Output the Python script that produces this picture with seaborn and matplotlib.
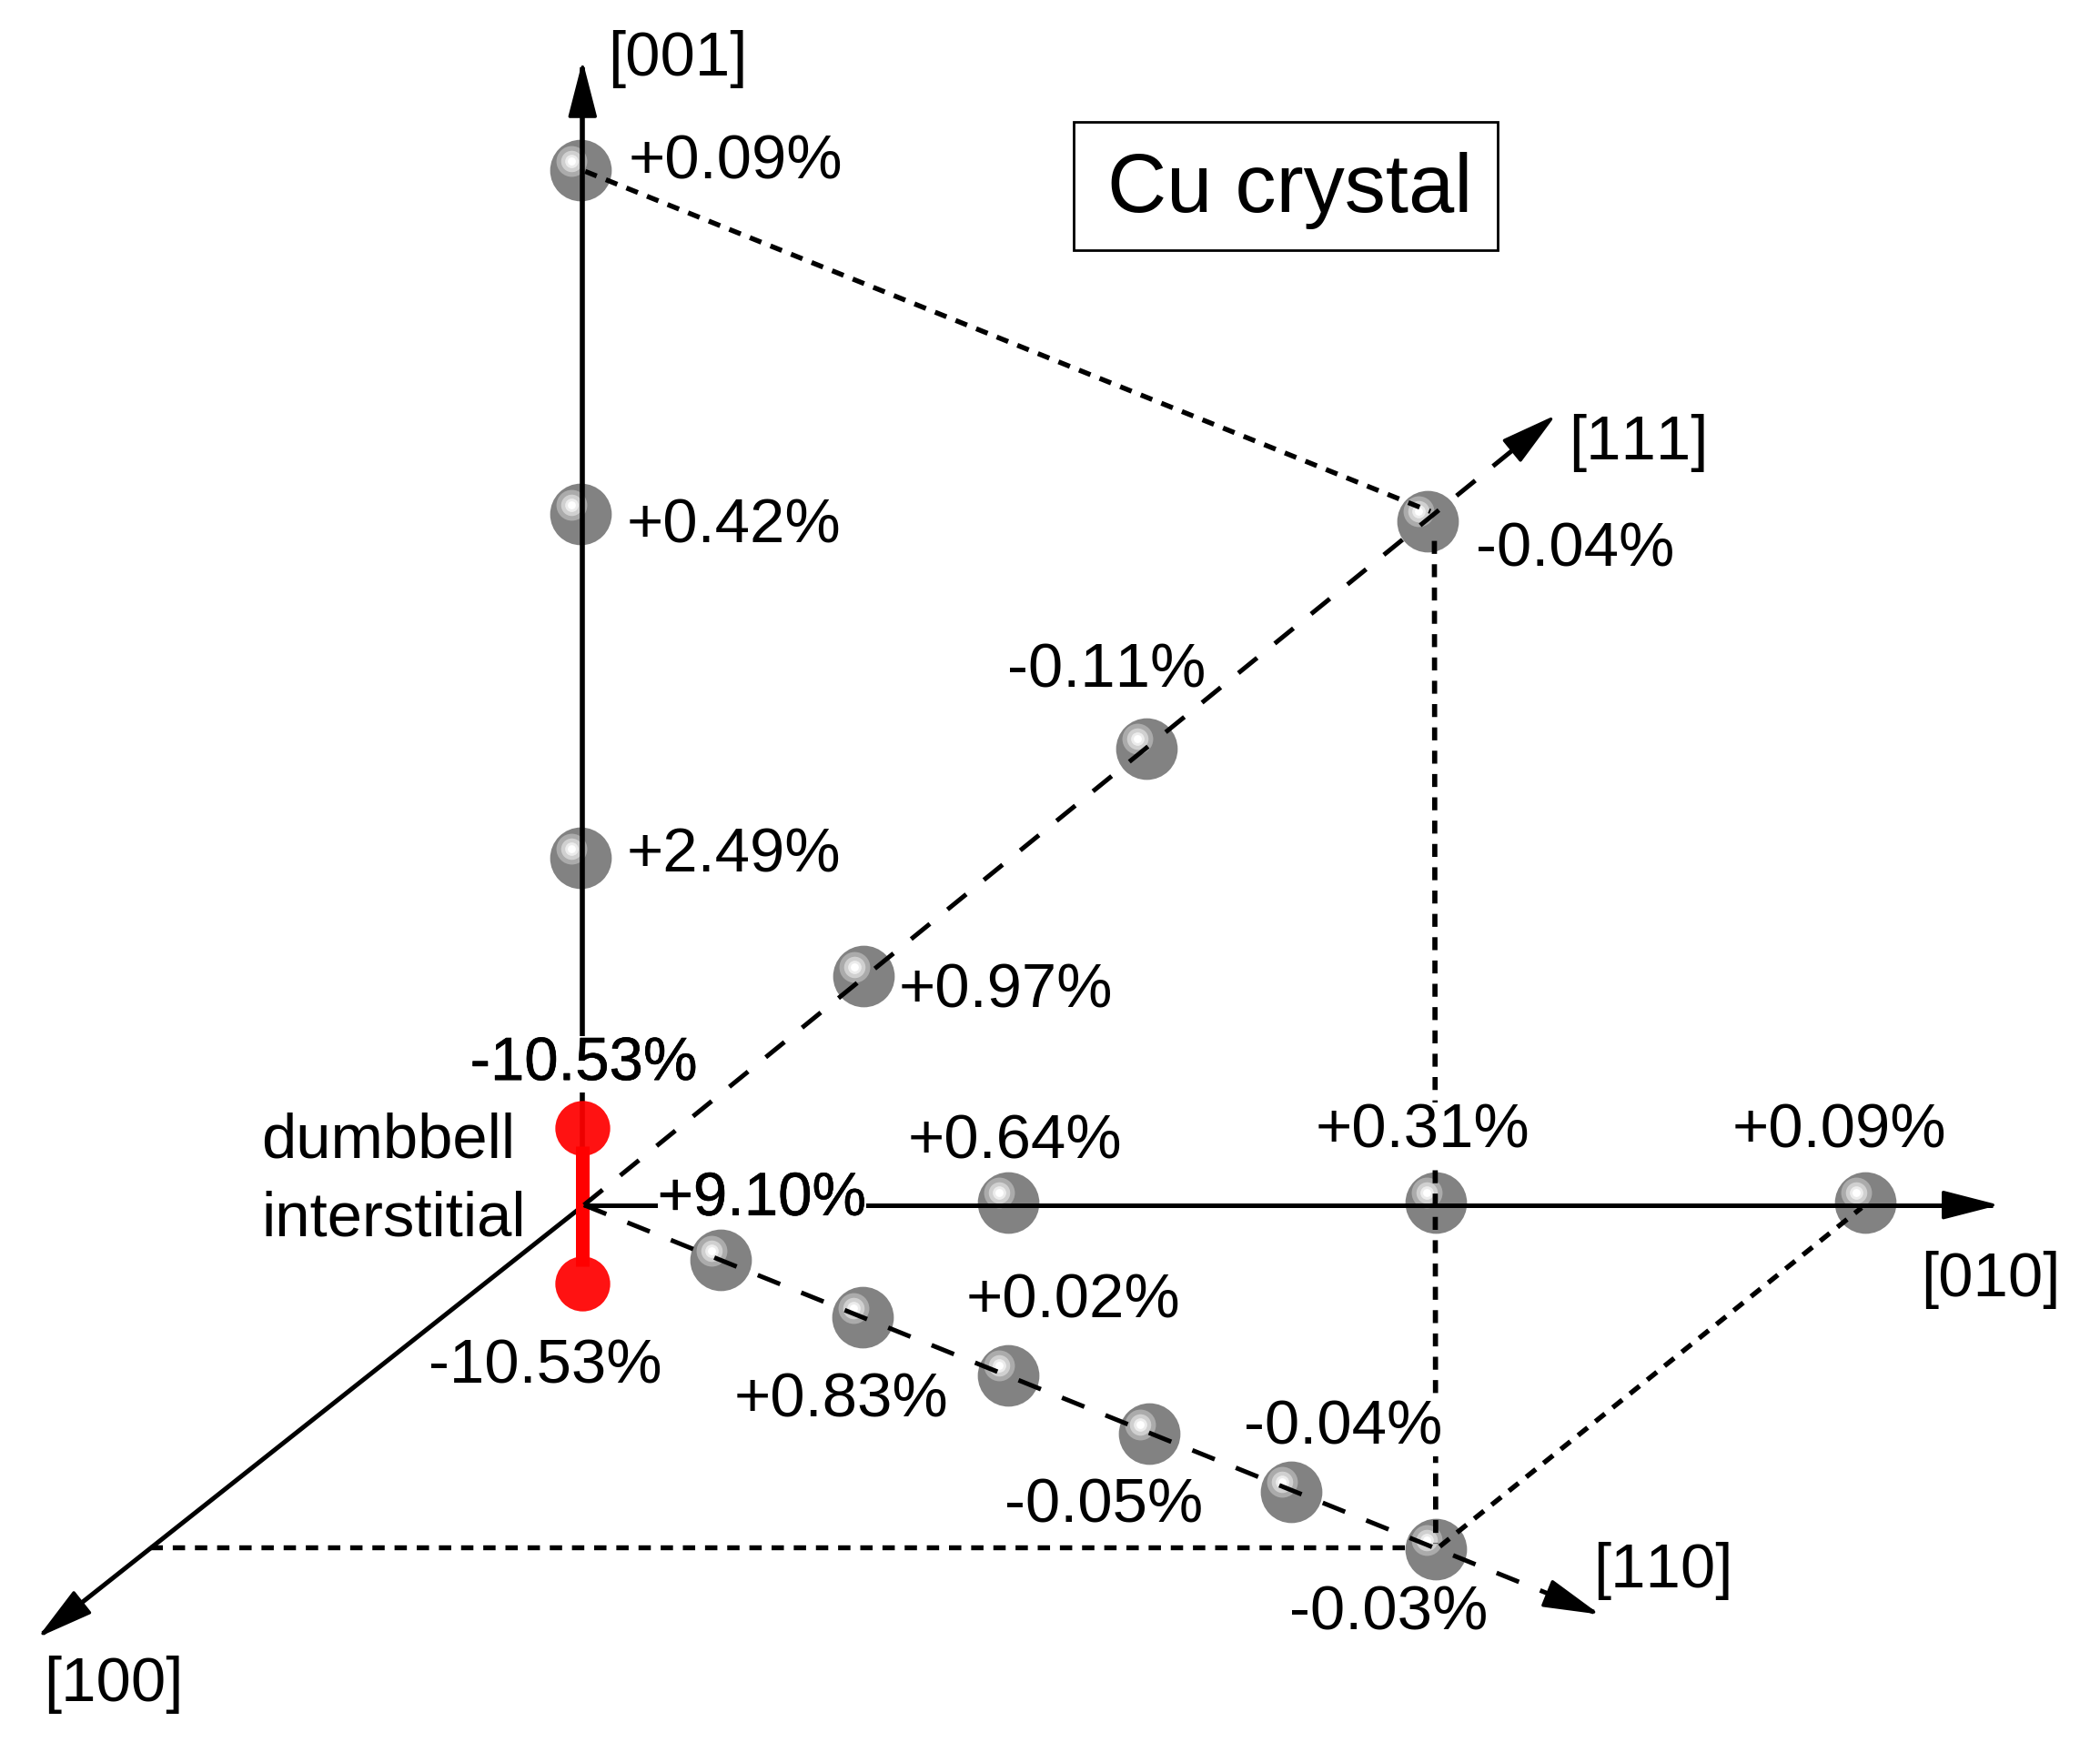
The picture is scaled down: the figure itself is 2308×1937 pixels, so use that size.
import numpy as np
import pandas as pd
import matplotlib
matplotlib.use("Agg")
import matplotlib.pyplot as plt
import matplotlib.patheffects as pe
from matplotlib.patches import Rectangle, Polygon
import seaborn as sns

sns.set_style("white")
plt.rcParams['font.family'] = ['Liberation Sans', 'DejaVu Sans']
plt.rcParams['text.kerning_factor'] = 16

W, H = 1568, 1316
K = 2308 / W  # px per unit

atom_x = [433.5, 433.5, 433.5, 645, 856, 1066, 538, 644, 753, 858, 964, 1072, 753, 1072, 1393]
atom_y = [127, 384, 641, 729, 559, 389, 941, 984, 1027, 1071, 1114, 1157, 898, 898, 898]
red_x = [435, 435]
red_y = [842.5, 958.5]

labels = ["+0.09%", "+0.42%", "+2.49%", "-0.04%", "-0.11%", "+0.97%", "+0.64%",
          "+0.09%", "+0.02%", "+0.83%", "-0.05%", "-0.03%", "-10.53%"]
label_x = [469, 468, 468, 1102, 752, 671, 678, 1293, 721, 548, 750, 963, 320]
label_y = [121, 393, 639, 411, 501, 740, 853, 845, 972, 1046, 1125, 1205, 1021]

# labels that sit on a guide line and interrupt it
cut_labels = ["+0.31%", "-0.04%"]
cut_x = [982, 929]
cut_y = [845, 1066]

axis_names = ["[001]", "[111]", "[010]", "[110]", "[100]", "dumbbell", "interstitial"]
axis_name_x = [454, 1171, 1434, 1190, 33, 195, 195]
axis_name_y = [44, 331, 956, 1173, 1258, 852, 911]

origin = (436, 900)
tips = {"001": (435, 50), "111": (1158, 313), "010": (1488, 900),
        "110": (1190, 1204), "100": (32, 1220)}

fig = plt.figure(figsize=(23.08, 19.37), dpi=100, facecolor="white")
ax = fig.add_axes([0, 0, 1, 1])
ax.set_xlim(0, W)
ax.set_ylim(H, 0)
ax.axis("off")

LW = 3.6
dash = (0, (5.3, 5.0))
dot = (0, (2.5, 2.0))


def head(tip, frm, length=37, width=19):
    tip = np.array(tip, float)
    d = tip - np.array(frm, float)
    d /= np.hypot(*d)
    n = np.array([-d[1], d[0]])
    base = tip - d * length
    pts = [tip, base + n * width / 2, base - n * width / 2]
    ax.add_patch(Polygon(pts, closed=True, fc="k", ec="k", lw=2.5, joinstyle="round", zorder=9))


def seg(a, b, ls="-", z=5, lw=LW):
    ax.plot([a[0], b[0]], [a[1], b[1]], color="k", lw=lw, ls=ls, zorder=z,
            solid_capstyle="butt", dash_capstyle="butt")


atoms = pd.DataFrame({"x": atom_x, "y": atom_y})


def spot(df, dx, dy, diam, color, z):
    sns.scatterplot(x=df["x"] + dx, y=df["y"] + dy, s=(diam * K * 0.72) ** 2, color=color,
                    linewidth=0, ax=ax, zorder=z, legend=False)


spot(atoms, 0, 0, 46, "#828282", 1)
spot(atoms, -7, -7, 23, "#ababab", 1.1)
spot(atoms, -7, -7, 16, "#d0d0d0", 1.2)
spot(atoms, -7, -7, 10, "#ececec", 1.3)
spot(atoms, -7, -7, 6, "#ffffff", 1.4)

# axes
seg((435, 880), tips["001"], z=2, lw=4.0)
seg(origin, tips["010"], z=9)
seg(origin, (32, 1220), z=2)
seg(origin, tips["111"], ls=dash, z=9)
seg(origin, tips["110"], ls=dash, z=9)
for k in tips:
    head(tips[k], origin if k != "001" else (435, 880))

# dotted guides
seg((437, 128), (1068, 382), ls=dot, lw=3.9)
seg((1071, 404), (1072, 1153), ls=dot, lw=4.1)
seg((112, 1156), (1055, 1156), ls=dot, lw=3.9)
seg((1075, 1155), (1390, 902), ls=dot, lw=3.9)

# dumbbell
red = pd.DataFrame({"x": red_x, "y": red_y})
sns.scatterplot(data=red, x="x", y="y", s=(41 * K * 0.72) ** 2, color="#ff0000", alpha=0.93,
                linewidth=0, ax=ax, zorder=7, legend=False)
ax.plot(red_x, [856, 946], color="#ff0000", lw=15 * 0.72, zorder=8, solid_capstyle="butt")

FS = 49.6
for t, x, y in zip(labels, label_x, label_y):
    ax.text(x, y, t, fontsize=FS, ha="left", va="center", color="k", zorder=11)
for t, x, y in zip(cut_labels, cut_x, cut_y):
    ax.text(x, y, t, fontsize=FS, ha="left", va="center", color="k", zorder=10,
            bbox=dict(fc="white", ec="none", pad=0))
for t, x, y in zip(axis_names, axis_name_x, axis_name_y):
    ax.text(x, y, t, fontsize=FS, ha="left", va="center", color="k", zorder=11)

# overprinted labels that interrupt the axes
stroke = [pe.withStroke(linewidth=0.4, foreground="k")]
t1 = ax.text(351, 795, "-10.53%", fontsize=48.3, ha="left", va="center", color="k", zorder=10,
             bbox=dict(fc="white", ec="none", pad=0))
t2 = ax.text(491, 896, "+9.10%", fontsize=48.3, ha="left", va="center", color="k", zorder=10,
             bbox=dict(fc="white", ec="none", pad=0))
t1.set_path_effects(stroke)
t2.set_path_effects(stroke)

# title box
ax.add_patch(Rectangle((802, 91), 316, 96, fc="white", ec="k", lw=2.0, zorder=4))
ax.text(963, 142, "Cu crystal", fontsize=65, ha="center", va="center", color="k", zorder=11)

fig.savefig("out.png", dpi=100, facecolor="white")
